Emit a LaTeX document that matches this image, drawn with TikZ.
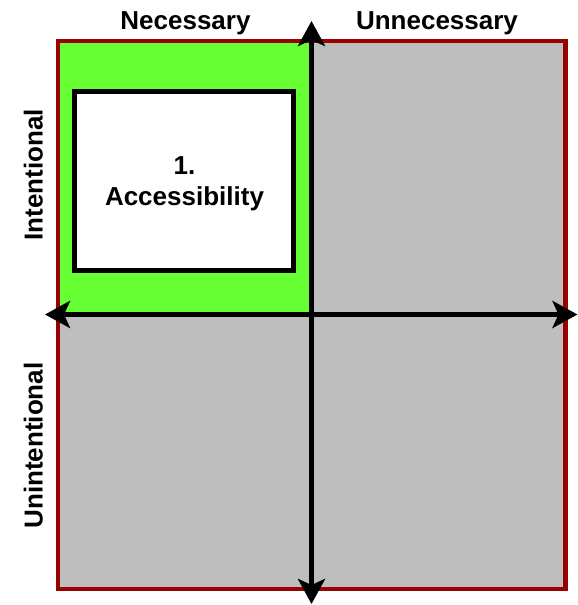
\documentclass[tikz,border=0pt]{standalone}
\usepackage{fontspec}
\setmainfont{Liberation Sans}
\usetikzlibrary{arrows.meta}
\definecolor{quadgreen}{HTML}{66FF33}
\definecolor{quadgray}{HTML}{BEBEBE}
\definecolor{borderred}{HTML}{990000}
\begin{document}
\begin{tikzpicture}[x=1pt,y=-1pt,
  quad/.style={draw=none,inner sep=0pt,minimum width=254pt,minimum height=273.5pt},
  frame/.style={draw=borderred,line width=4.5pt,inner sep=0pt,minimum width=507.5pt,minimum height=548pt},
  itembox/.style={draw=black,fill=white,line width=5pt,inner sep=0pt,minimum width=219pt,minimum height=179pt},
  itemtext/.style={inner sep=0pt,align=center,font=\fontsize{26}{31.5}\selectfont\bfseries},
  label/.style={inner sep=0pt,anchor=base,font=\fontsize{26}{31}\selectfont\bfseries},
  axis/.style={line width=5pt,{Stealth[length=25pt,width=27pt,inset=6pt]}-{Stealth[length=25pt,width=27pt,inset=6pt]}}]
\useasboundingbox (0,0) rectangle (578,605);
% quadrants
\node[quad,fill=quadgreen] (q1) at (184.75,177.75) {};
\node[quad,fill=quadgray]  (q2) at (438.5,177.75) {};
\node[quad,fill=quadgray,minimum height=274.5pt] (q3) at (184.75,451.75) {};
\node[quad,fill=quadgray,minimum height=274.5pt] (q4) at (438.5,451.75) {};
% frame
\node[frame] (fr) at (311.75,315) {};
% item box
\node[itembox] (acc) at (184,181) {};
\node[itemtext] (acctext) at (184.5,184) {1.\\Accessibility};
% axes
\coordinate (vt) at (311.5,21);
\coordinate (vb) at (311.5,604);
\coordinate (hl) at (45,314.5);
\coordinate (hr) at (577.5,314.5);
\draw[axis] (vb) -- (vt);
\draw[axis] (hl) -- (hr);
% labels
\node[label] (nec) at (185.5,29.5) {Necessary};
\node[label] (unn) at (437,29.5) {Unnecessary};
\node[label,rotate=90] (int) at (42.5,175) {Intentional};
\node[label,rotate=90] (unint) at (42.5,445.5) {Unintentional};
\end{tikzpicture}
\end{document}
